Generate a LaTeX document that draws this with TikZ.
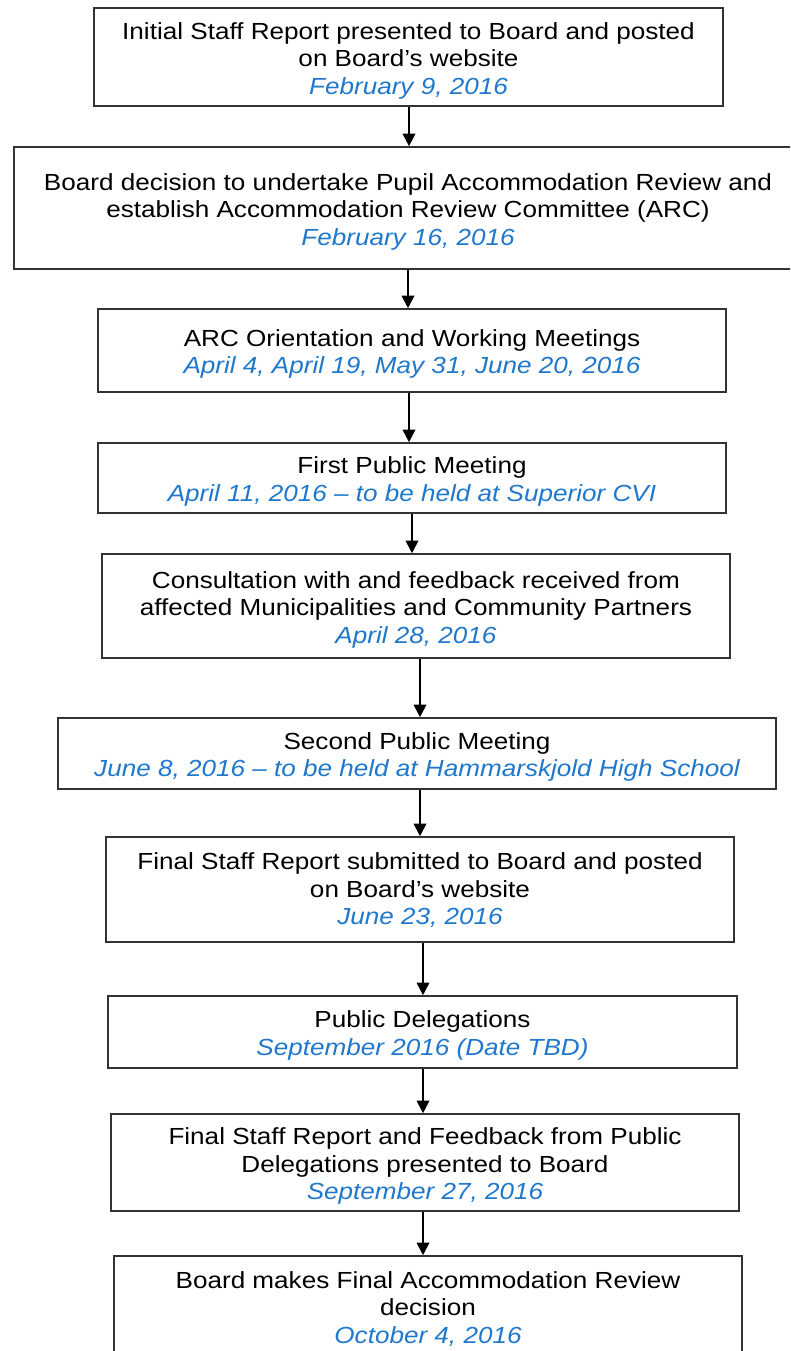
\documentclass[tikz,border=0pt]{standalone}
\usepackage{fontspec}
\setmainfont{Liberation Sans}[FakeStretch=1.12]
\usetikzlibrary{arrows.meta}
\definecolor{dateblue}{HTML}{1F78CC}
\newcommand\dt[1]{{\color{dateblue}\itshape #1}}
\newcommand\tl{\rule{0pt}{24pt}}
\newcommand\tls{\rule{0pt}{18pt}}
\newcommand\tlx{\rule{0pt}{16pt}}
\tikzset{
  stepbox/.style={draw=black!80, line width=1.6pt, fill=white, align=center,
    inner sep=0pt, font=\fontsize{23.3}{27.5}\selectfont},
  arr/.style={line width=1.8pt, -{Triangle[length=12.5pt,width=12.5pt]}}
}
\begin{document}
\begin{tikzpicture}[x=1pt,y=-1pt]
\useasboundingbox (0,0) rectangle (790,1351);
\fill[white] (0,0) rectangle (790,1351);
\clip (0,0) rectangle (790,1351);

\node[stepbox, minimum width=629pt, minimum height=98pt] (b1) at (408.5,57)
  {\tl Initial Staff Report presented to Board and posted\\on Board’s website\\\dt{February 9, 2016}};
\node[stepbox, minimum width=788pt, minimum height=122pt] (b2) at (408,208)
  {\tl Board decision to undertake Pupil Accommodation Review and\\establish Accommodation Review Committee (ARC)\\\dt{February 16, 2016}};
\node[stepbox, minimum width=628pt, minimum height=83pt] (b3) at (412,350.5)
  {\tl ARC Orientation and Working Meetings\\\dt{April 4, April 19, May 31, June 20, 2016}};
\node[stepbox, minimum width=628pt, minimum height=70pt] (b4) at (412,478)
  {\tl First Public Meeting\\\dt{April 11, 2016 – to be held at Superior CVI}};
\node[stepbox, minimum width=628pt, minimum height=104pt] (b5) at (416,606)
  {\tl Consultation with and feedback received from\\affected Municipalities and Community Partners\\\dt{April 28, 2016}};
\node[stepbox, minimum width=718pt, minimum height=71pt] (b6) at (417,753.5)
  {\tl Second Public Meeting\\\dt{June 8, 2016 – to be held at Hammarskjold High School}};
\node[stepbox, minimum width=628pt, minimum height=105pt] (b7) at (420,889.5)
  {\tls Final Staff Report submitted to Board and posted\\on Board’s website\\\dt{June 23, 2016}};
\node[stepbox, minimum width=629pt, minimum height=72pt] (b8) at (422.5,1032)
  {\tl Public Delegations\\\dt{September 2016 (Date TBD)}};
\node[stepbox, minimum width=628pt, minimum height=97pt] (b9) at (425,1162.5)
  {\tl Final Staff Report and Feedback from Public\\Delegations presented to Board\\\dt{September 27, 2016}};
\node[stepbox, minimum width=628pt, minimum height=106pt] (b10) at (428,1309)
  {\tlx Board makes Final Accommodation Review\\decision\\\dt{October 4, 2016}};

\coordinate (x1) at (409,0);
\coordinate (x2) at (408,0);
\coordinate (x3) at (409,0);
\coordinate (x4) at (412,0);
\coordinate (x5) at (420,0);
\coordinate (x6) at (420,0);
\coordinate (x7) at (423,0);
\coordinate (x8) at (423,0);
\coordinate (x9) at (423,0);

\draw[arr] (b1.south -| x1) -- (b2.north -| x1);
\draw[arr] (b2.south -| x2) -- (b3.north -| x2);
\draw[arr] (b3.south -| x3) -- (b4.north -| x3);
\draw[arr] (b4.south -| x4) -- (b5.north -| x4);
\draw[arr] (b5.south -| x5) -- (b6.north -| x5);
\draw[arr] (b6.south -| x6) -- (b7.north -| x6);
\draw[arr] (b7.south -| x7) -- (b8.north -| x7);
\draw[arr] (b8.south -| x8) -- (b9.north -| x8);
\draw[arr] (b9.south -| x9) -- (b10.north -| x9);
\end{tikzpicture}
\end{document}
